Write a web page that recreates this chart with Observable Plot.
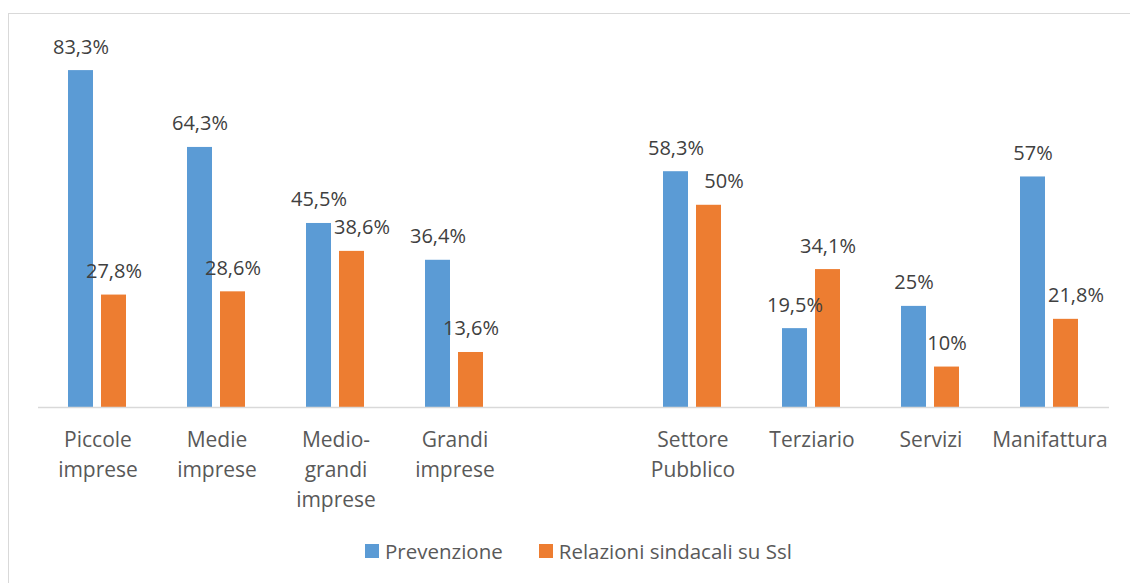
<!DOCTYPE html>
<html>
<head>
<meta charset="utf-8">
<script src="https://cdn.jsdelivr.net/npm/d3@7"></script>
<script src="https://cdn.jsdelivr.net/npm/@observablehq/plot@0.6"></script>
<style>
  html, body { margin: 0; padding: 0; width: 1130px; height: 583px; overflow: hidden; background: #fff; font-family: "Open Sans", sans-serif; }
  #frame { position: absolute; left: 8px; top: 13px; width: 1200px; height: 700px; border: 1.5px solid #d9d9d9; box-sizing: border-box; }
  #chart { position: absolute; left: 0; top: 0; }
  #legend { position: absolute; left: 365px; top: 537px; display: flex; align-items: center; font-size: 20.5px; color: #595959; white-space: nowrap; }
  #legend .item { display: flex; align-items: center; margin-right: 36px; }
  #legend .sw { width: 14px; height: 14px; margin-right: 6px; }
</style>
</head>
<body>
<div id="frame"></div>
<div id="chart"></div>
<div id="legend"></div>
<script>
// ---- data ----
const categories = ["Piccole imprese", "Medie imprese", "Medio-grandi imprese", "Grandi imprese", " ", "Settore Pubblico", "Terziario", "Servizi", "Manifattura"];
const tickLabels = ["Piccole\nimprese", "Medie\nimprese", "Medio-\ngrandi\nimprese", "Grandi\nimprese", "", "Settore\nPubblico", "Terziario", "Servizi", "Manifattura"];
const series = ["Prevenzione", "Relazioni sindacali su Ssl"];
const prevenzione = [83.3, 64.3, 45.5, 36.4, null, 58.3, 19.5, 25, 57];
const relazioni = [27.8, 28.6, 38.6, 13.6, null, 50, 34.1, 10, 21.8];
const colors = ["#5B9BD5", "#ED7D31"];
// label nudges (styling only, px) for labels pushed right in the original
const labelNudge = {"Medio-grandi imprese|Relazioni sindacali su Ssl": 10, "Settore Pubblico|Relazioni sindacali su Ssl": 15, "Manifattura|Relazioni sindacali su Ssl": 10};

const rows = [];
categories.forEach((c, i) => {
  if (prevenzione[i] != null) rows.push({category: c, series: series[0], value: prevenzione[i]});
  if (relazioni[i] != null) rows.push({category: c, series: series[1], value: relazioni[i]});
});
const fmt = v => String(v).replace(".", ",") + "%";
const nudgeOf = d => labelNudge[d.category + "|" + d.series] || 0;
const nudges = [...new Set(rows.map(nudgeOf))];

const labelMarks = nudges.map(n => Plot.text(rows.filter(d => nudgeOf(d) === n), {
  fx: "category", x: "series", y: "value", text: d => fmt(d.value),
  lineAnchor: "bottom", dy: -17, dx: n, fontSize: 20, fill: "#404040"
}));

const chart = Plot.plot({
  width: 1130,
  height: 520,
  marginLeft: 36,
  marginRight: 19,
  marginTop: 43,
  marginBottom: 113,
  style: {fontFamily: '"Open Sans", sans-serif', background: "transparent", overflow: "visible"},
  fx: {domain: categories, padding: 0, axis: null},
  x: {domain: series, paddingInner: 0.235, paddingOuter: 0.873, axis: null},
  y: {domain: [0, 90], axis: null},
  color: {domain: series, range: colors},
  marks: [
    Plot.barY(rows, {fx: "category", x: "series", y: "value", fill: "series"}),
    Plot.ruleY(categories, {fx: d => d, y: () => 0, stroke: "#d9d9d9", strokeWidth: 1.6}),
    ...labelMarks,
    Plot.axisFx({
      anchor: "bottom", tickSize: 0, tickPadding: 18, label: null,
      tickFormat: d => tickLabels[categories.indexOf(d)],
      fontSize: 21, lineHeight: 1.43, fill: "#595959"
    })
  ]
});
document.getElementById("chart").appendChild(chart);

const legend = document.getElementById("legend");
series.forEach((s, i) => {
  const item = document.createElement("div");
  item.className = "item";
  const sw = document.createElement("span");
  sw.className = "sw";
  sw.style.background = colors[i];
  const t = document.createElement("span");
  t.textContent = s;
  item.appendChild(sw);
  item.appendChild(t);
  legend.appendChild(item);
});
</script>
</body>
</html>
